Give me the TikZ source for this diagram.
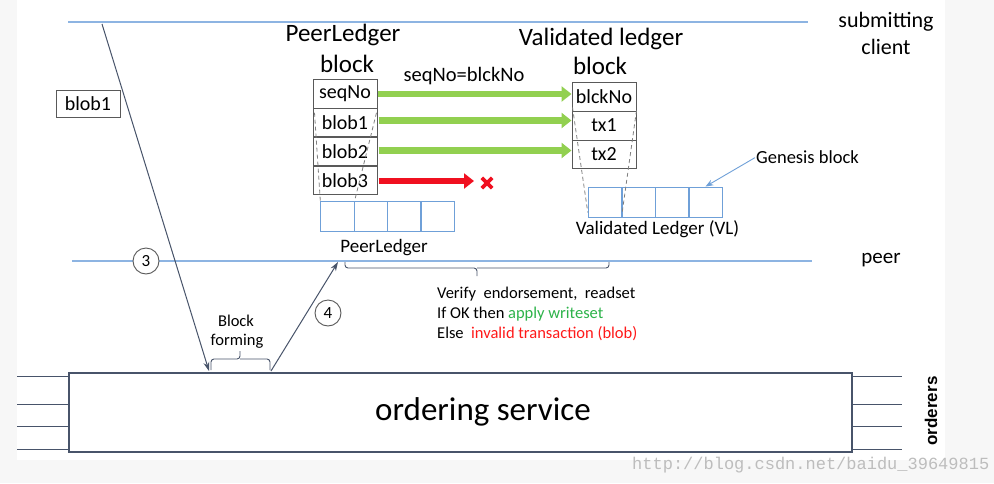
\documentclass[tikz,border=0pt]{standalone}
\usepackage{fontspec}
\setmainfont{Carlito}
\newfontfamily\orderfont{Liberation Sans}
\newfontfamily\wmfont{Liberation Mono}
\usetikzlibrary{arrows.meta,calc}
\definecolor{lineblue}{HTML}{8DB4E2}
\definecolor{cellblue}{HTML}{6FA0D8}
\definecolor{boxgray}{HTML}{595959}
\definecolor{arrowslate}{HTML}{48546A}
\definecolor{okgreen}{HTML}{92D050}
\definecolor{badred}{HTML}{F01020}
\definecolor{txtgreen}{HTML}{2DB34A}
\definecolor{txtred}{HTML}{FF1A1A}
\definecolor{margingray}{HTML}{F7F7F7}
\definecolor{wmgray}{HTML}{BDBDBD}
\newcommand\fsz[1]{\fontsize{#1}{#1}\selectfont}
\tikzset{
  cellbox/.style={draw=boxgray, line width=1pt, minimum width=64pt, minimum height=28.5pt, inner sep=0pt, font=\fsz{20}},
  chaincell/.style={draw=cellblue, line width=0.9pt, minimum width=33.5pt, minimum height=30pt, inner sep=0pt},
  lane/.style={draw=lineblue, line width=1.1pt},
  flow/.style={draw=arrowslate, line width=1pt, -{Stealth[length=9pt,width=6pt]}},
  okarrow/.style={draw=okgreen, line width=6.5pt, -{Triangle[length=10pt,width=15pt]}},
  badarrow/.style={draw=badred, line width=6.5pt, -{Triangle[length=10pt,width=15pt]}},
  numcirc/.style={circle, draw=boxgray, line width=0.9pt, minimum size=26pt, inner sep=0pt, font=\fsz{17}},
  dashlink/.style={draw=gray, line width=0.8pt, dash pattern=on 4pt off 3pt},
  bracepath/.style={draw=arrowslate, line width=0.9pt, rounded corners=3pt},
  stub/.style={draw=arrowslate, line width=1pt},
  lbl/.style={inner sep=0pt, anchor=base},
}
\begin{document}
\begin{tikzpicture}[x=1pt,y=-1pt]
\useasboundingbox (0,0) rectangle (994,483);
\fill[margingray] (0,0) rectangle (994,483);
\fill[white] (17,0) rectangle (945,460);

% lanes
\draw[lane] (68,22) -- (808,22);
\draw[lane] (72,261) -- (812,261);
\node[lbl, font=\fsz{22}] (sub1) at (886,27) {submitting};
\node[lbl, font=\fsz{22}] (sub2) at (886,54) {client};
\node[lbl, font=\fsz{21}] (peerlbl) at (881,263) {peer};

% headings
\node[lbl, font=\fsz{25}] (plhead) at (343,41) {PeerLedger};
\node[lbl, font=\fsz{25}] (plblock) at (347,72) {block};
\node[lbl, font=\fsz{25}] (vlhead) at (601,45) {Validated ledger};
\node[lbl, font=\fsz{25}] (vlblock) at (600,74) {block};
\node[lbl, font=\fsz{20.5}] (eqlbl) at (464,81) {seqNo=blckNo};

% peer ledger block
\node[cellbox] (seq) at (345,94) {seqNo};
\node[cellbox] (b1) at (345,122.5) {blob1};
\node[cellbox] (b2) at (345,151.5) {blob2};
\node[cellbox] (b3) at (345,180.5) {blob3};

% validated block
\node[cellbox, minimum height=29pt] (bn) at (604,96.5) {blckNo};
\node[cellbox, minimum height=29pt] (t1) at (604,125.5) {tx1};
\node[cellbox, minimum height=28pt] (t2) at (604,154) {tx2};

% chains
\node[chaincell] (p1) at (337.5,216) {};
\node[chaincell] (p2) at (371,216) {};
\node[chaincell] (p3) at (404.5,216) {};
\node[chaincell] (p4) at (437.5,216) {};
\node[lbl, font=\fsz{19}] (pllbl) at (384,252) {PeerLedger};

\node[chaincell] (v1) at (605,202) {};
\node[chaincell] (v2) at (639,202) {};
\node[chaincell] (v3) at (672.5,202) {};
\node[chaincell] (v4) at (705.5,202) {};
\node[lbl, font=\fsz{19}] (vllbl) at (657.5,234) {Validated Ledger (VL)};

\node[lbl, font=\fsz{18.5}] (gen) at (807.5,163) {Genesis block};
\draw[draw=cellblue, line width=0.9pt, -{Stealth[length=8pt,width=6pt]}] (gen.west) ++(-1,1) -- (v4.north);

% dashed links
\draw[dashlink] ($(b1.north west)+(2,5)$) -- (p1.north west);
\draw[dashlink] ($(b1.north east)+(-1,5)$) -- (p1.north east);
\draw[dashlink] ($(t1.north west)+(1,-3)$) -- ($(v1.south west)+(0,-5)$);
\draw[dashlink] ($(t1.north east)+(0,0)$) -- ($(v1.south east)+(0,-5)$);

% green / red arrows
\draw[okarrow] (seq.east) -- (seq.east -| bn.west);
\draw[okarrow] ($(b1.east)+(1,-2)$) -- ($(b1.east -| t1.west)+(0,-2)$);
\draw[okarrow] ($(b2.east)+(1,-1)$) -- ($(b2.east -| t2.west)+(0,-1)$);
\coordinate (redend) at (474,181);
\draw[badarrow] ($(b3.east)+(1,0.5)$) -- (redend);
\node[minimum size=12pt, inner sep=0pt] (xmark) at (487,183) {};
\draw[badred, line width=3.6pt] ($(xmark.north west)+(1,1)$) -- ($(xmark.south east)+(-1,-1)$);
\draw[badred, line width=3.6pt] ($(xmark.south west)+(1,-1)$) -- ($(xmark.north east)+(-1,1)$);

% blob1 on the left
\node[cellbox, minimum height=27pt] (lb1) at (88,104) {blob1};

% ordering service
\node[draw=arrowslate, line width=1.2pt, minimum width=783pt, minimum height=79pt, inner sep=0pt] (os) at (460.5,412.5) {};
\node[lbl, font=\fsz{33}] (ostxt) at (483,420) {ordering service};
\foreach \yy in {376,404,426,449} {
  \draw[stub] (17,\yy) -- (69,\yy);
  \draw[stub] (852,\yy) -- (902,\yy);
}
\node[font=\orderfont\bfseries\fontsize{17}{17}\selectfont, rotate=90, inner sep=0pt] (ord) at (931,411) {orderers};

% flows 3 and 4
\coordinate (c3s) at (102,24);
\coordinate (c3e) at (209,371);
\draw[flow] (c3s) -- (c3e);
\coordinate (c4s) at (271,371);
\coordinate (c4e) at (338,262);
\draw[flow] (c4s) -- (c4e);
\node[numcirc, fill=white] (n3) at (146,261) {3};
\node[numcirc] (n4) at (328,313) {4};

% block forming brace
\draw[bracepath] (211,370) -- (211,359) -- (240,359) -- (240,351);
\draw[bracepath] (270,370) -- (270,359) -- (240,359);
\node[lbl, font=\fsz{16.5}] (bf1) at (236,326) {Block};
\node[lbl, font=\fsz{16.5}] (bf2) at (237,345) {forming};

% validation brace
\draw[bracepath] (345,262) -- (345,268) -- (477,268) -- (477,276);
\draw[bracepath] (609,262) -- (609,268) -- (477,268);
\node[lbl, anchor=base west, font=\fsz{16.5}] (vt1) at (437,298) {Verify\ \ endorsement,\ \ readset};
\node[lbl, anchor=base west, font=\fsz{16.5}] (vt2) at (437,318) {If OK then \textcolor{txtgreen}{apply writeset}};
\node[lbl, anchor=base west, font=\fsz{16.5}] (vt3) at (437,338) {Else\ \ \textcolor{txtred}{invalid transaction (blob)}};

% watermark
\node[lbl, anchor=base west, font=\wmfont\fontsize{17}{17}\selectfont, text=wmgray] (wm) at (632,469) {http://blog.csdn.net/baidu\_39649815};
\end{tikzpicture}
\end{document}
